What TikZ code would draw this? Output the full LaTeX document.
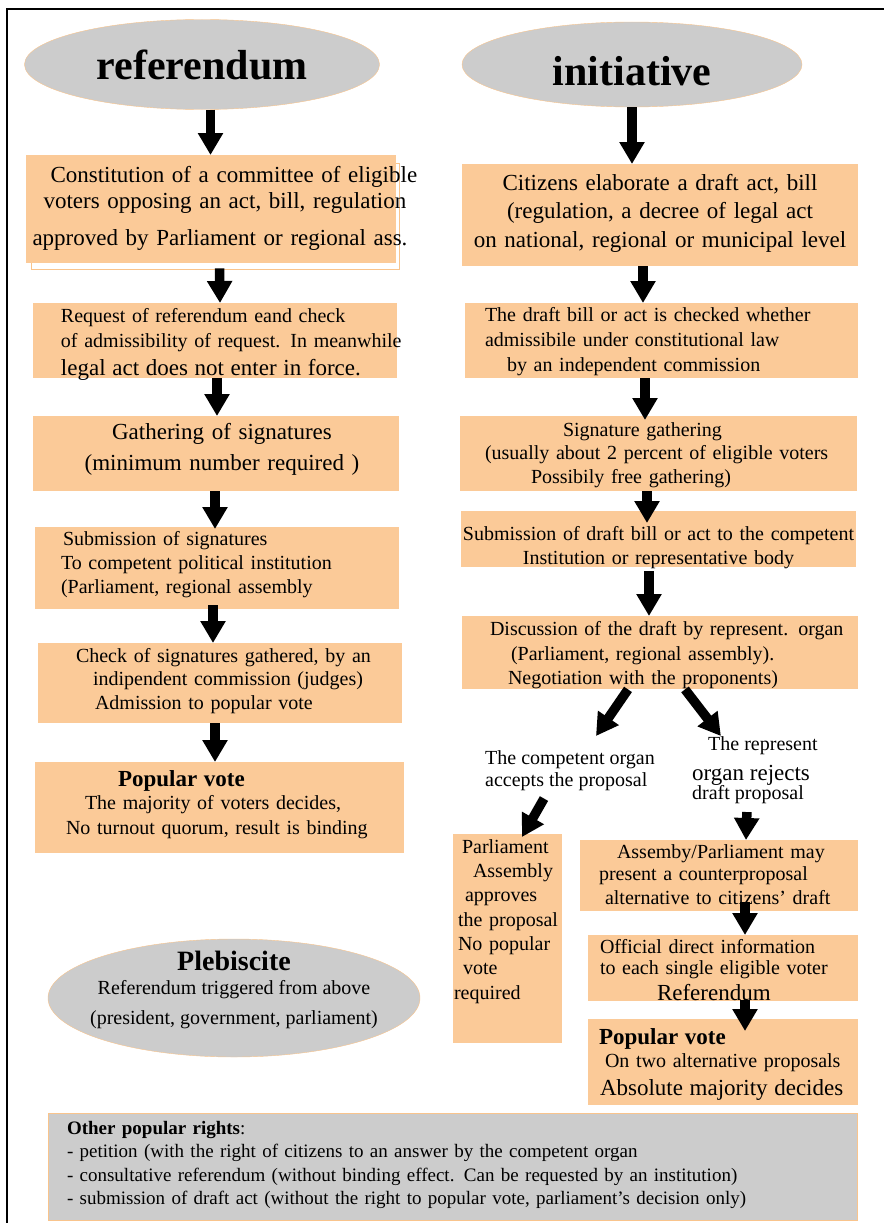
\documentclass[tikz,border=0pt]{standalone}
\usepackage{fontspec}
\setmainfont{Liberation Serif}
\usepackage{tikz}
\usetikzlibrary{shapes,arrows.meta}

\definecolor{peach}{RGB}{251,202,152}
\definecolor{ovalgray}{RGB}{204,204,204}
\definecolor{rim}{RGB}{249,196,140}

\newcommand{\bodyfont}{\fontsize{20}{24}\selectfont}
\newcommand{\largefont}{\fontsize{23}{27}\selectfont}
\newcommand{\titlefont}{\fontsize{42}{46}\selectfont\bfseries}

\begin{document}
\begin{tikzpicture}[x=1pt,y=-1pt]

 \tikzstyle{stage}=[fill=peach,inner sep=0pt,anchor=north,align=left,font=\bodyfont]
 \tikzstyle{oval}=[ellipse,draw=rim,fill=ovalgray,inner sep=0pt]
 \tikzstyle{panel}=[fill=ovalgray,draw=rim,inner sep=0pt,anchor=north,align=left]
 \tikzstyle{note}=[inner sep=0pt,font=\bodyfont,align=left]
 \tikzstyle{flow}=[-{Triangle[width=24pt,length=22pt]},line width=9.5pt]

\useasboundingbox (0,0) rectangle (884,1223);
\draw[line width=1.5pt] (7,1223) -- (7,9) -- (884,9);

% Titles
\node[oval,minimum width=355pt,minimum height=90pt,font=\titlefont] (ref) at (202,64.5) {referendum};
\node[oval,minimum width=340pt,minimum height=85pt,font=\titlefont,text height=43pt] (ini) at (632,64.5) {initiative};

% Referendum column
\draw[rim,fill=white] (31,163) rectangle (399,269);
\node[stage,text width=370pt,text height=27pt,text depth=81pt,font=\fontsize{23}{26}\selectfont] (l1) at (210.5,155)
 {\hspace*{25pt}\mbox{Constitution of a committee of eligible}\\
  \hspace*{18pt}\mbox{voters opposing an act, bill, regulation}\\[11pt]
  \hspace*{7pt}\mbox{approved by Parliament or regional ass.}};

\node[stage,text width=364pt,text height=19pt,text depth=56pt,font=\fontsize{20}{25}\selectfont] (l2) at (215,303)
 {\hspace*{28pt}Request of referendum eand check\\
  \hspace*{28pt}\mbox{of admissibility of request. In meanwhile}\\[3pt]
  \hspace*{28pt}{\largefont legal act does not enter in force.}};

\node[stage,text width=366pt,text height=23pt,text depth=52pt,align=center,font=\largefont] (l3) at (216,416)
 {\hspace*{12pt}Gathering of signatures\\[4pt]\hspace*{12pt}(minimum number required )};

\node[stage,text width=364pt,text height=18pt,text depth=64pt] (l4) at (217,527)
 {\hspace*{28pt}Submission of signatures\\
  \hspace*{26pt}To competent political institution\\
  \hspace*{26pt}(Parliament, regional assembly};

\node[stage,text width=364pt,text height=19pt,text depth=61pt,font=\fontsize{20}{23.5}\selectfont] (l5) at (220,643)
 {\hspace*{38pt}Check of signatures gathered, by an\\
  \hspace*{55pt}indipendent commission (judges)\\
  \hspace*{57pt}Admission to popular vote};

\node[stage,text width=369pt,text height=24pt,text depth=67pt] (l6) at (219.5,762)
 {\hspace*{83pt}{\largefont\bfseries Popular vote}\\[-1pt]
  \hspace*{50pt}The majority of voters decides,\\[1pt]
  \hspace*{31pt}No turnout quorum, result is binding};

\node[oval,inner xsep=-50pt,inner ysep=-15pt,minimum width=372pt,minimum height=118pt,align=center,
 font=\bodyfont,text depth=21pt] (pleb) at (234,998)
 {{\fontsize{28}{30}\selectfont\bfseries Plebiscite}\\Referendum triggered from above\\[6pt](president, government, parliament)};

% Initiative column
\node[stage,text width=396pt,text height=26pt,text depth=76pt,align=center,font=\fontsize{23}{28.5}\selectfont] (r1) at (660,164)
 {Citizens elaborate a draft act, bill\\(regulation, a decree of legal act\\on national, regional or municipal level};

\node[stage,text width=393pt,text height=18pt,text depth=57pt,font=\fontsize{20}{25}\selectfont] (r2) at (661.5,303)
 {\hspace*{20pt}The draft bill or act is checked whether\\
  \hspace*{20pt}admissibile under constitutional law\\
  \hspace*{42pt}by an independent commission};

\node[stage,text width=397pt,text height=20pt,text depth=55pt,font=\fontsize{20}{23.5}\selectfont] (r3) at (658.5,416)
 {\hspace*{103pt}Signature gathering\\
  \hspace*{25pt}(usually about 2 percent of eligible voters\\
  \hspace*{71pt}Possibily free gathering)};

\node[stage,text width=395pt,text height=29pt,text depth=27pt,align=center] (r4) at (658.5,511)
 {\mbox{Submission of draft bill or act to the competent}\\Institution or representative body};

\node[stage,text width=396pt,text height=19pt,text depth=54pt] (r5) at (660,616)
 {\hspace*{28pt}\mbox{Discussion of the draft by represent. organ}\\[1pt]
  \hspace*{49pt}(Parliament, regional assembly).\\
  \hspace*{46pt}Negotiation with the proponents)};

\node[note,anchor=north west] (acc) at (485,750) {The competent organ\\[-2pt]accepts the proposal};
\node[note,anchor=north west] (rej) at (692,736)
 {\hspace*{16pt}The represent\\[6.5pt]{\largefont organ rejects}\\[-5pt]draft proposal};

\node[stage,text width=109pt,text height=19pt,text depth=190pt,font=\fontsize{20}{24.3}\selectfont] (par) at (507.5,834)
 {\hspace*{9pt}Parliament\\
  \hspace*{20pt}Assembly\\
  \hspace*{12pt}approves\\
  \hspace*{5pt}the proposal\\
  \hspace*{5pt}No popular\\
  \hspace*{10pt}vote\\
  \hspace*{1pt}required};

\node[stage,text width=278pt,text height=18pt,text depth=53pt,font=\fontsize{20}{22.5}\selectfont] (b6) at (719,840)
 {\hspace*{37pt}Assemby/Parliament may\\
  \hspace*{19pt}present a counterproposal\\[1.5pt]
  \hspace*{25pt}alternative to citizens’ draft};

\node[stage,text width=270pt,text height=18pt,text depth=48pt,font=\fontsize{20}{21}\selectfont] (b7) at (723,935)
 {\hspace*{12pt}Official direct information\\
  \hspace*{12pt}to each single eligible voter\\[5pt]
  \hspace*{69pt}{\largefont Referendum}};

\node[stage,text width=270pt,text height=25pt,text depth=61pt,font=\fontsize{20}{23}\selectfont] (b8) at (723,1019)
 {\hspace*{11pt}{\largefont\bfseries Popular vote}\\
  \hspace*{17pt}On two alternative proposals\\[5pt]
  \hspace*{12pt}{\largefont Absolute majority decides}};

% Other rights
\node[panel,text width=809pt,text height=21pt,text depth=86pt,font=\fontsize{19}{23.5}\selectfont] (other) at (452.5,1113)
 {\hspace*{19pt}{\bfseries Other popular rights}:\\
  \hspace*{19pt}- petition (with the right of citizens to an answer by the competent organ\\
  \hspace*{19pt}- consultative referendum (without binding effect. Can be requested by an institution)\\
  \hspace*{19pt}- submission of draft act (without the right to popular vote, parliament’s decision only)};

% Arrows
\draw[flow] (ref.south -| l1.north) -- (l1.north);
\draw[flow] ([xshift=9pt,yshift=-5pt]l1.south) -- ([xshift=5pt]l2.north);
\draw[flow] ([xshift=2pt]l2.south) -- ([xshift=1pt]l3.north);
\draw[flow] ([xshift=-1pt]l3.south) -- ([xshift=-2pt,yshift=-2pt]l4.north);
\draw[flow] ([xshift=-4pt,yshift=4pt]l4.south) -- ([xshift=-7pt]l5.north);
\draw[flow] ([xshift=-5pt]l5.south) -- ([xshift=-4.5pt]l6.north);

\draw[flow] (ini.south) -- (ini.south |- r1.north);
\draw[flow] ([xshift=-17pt]r1.south) -- ([xshift=-18.5pt]r2.north);
\draw[flow] ([xshift=-16.5pt]r2.south) -- ([xshift=-13.5pt,yshift=-4pt]r3.north);
\draw[flow] ([xshift=-11.5pt]r3.south) -- ([xshift=-11.5pt,yshift=-12pt]r4.north);
\draw[flow] ([xshift=-9.5pt,yshift=-4pt]r4.south) -- ([xshift=-11pt]r5.north);
\draw[flow] ([xshift=-32pt]r5.south) -- ([xshift=26pt,yshift=14pt]acc.north);
\draw[flow] ([xshift=25pt]r5.south) -- ([xshift=-34pt]rej.north);
\draw[flow] ([xshift=-26pt,yshift=-8pt]acc.south) -- ([xshift=14.5pt,yshift=-3pt]par.north);
\draw[flow] ([xshift=-8pt,yshift=-8pt]rej.south) -- ([xshift=27pt]b6.north);
\draw[flow] ([xshift=26pt,yshift=9pt]b6.south) -- ([xshift=22pt]b7.north);
\draw[flow] ([xshift=22pt,yshift=1pt]b7.south) -- ([xshift=22pt,yshift=-12pt]b8.north);

\end{tikzpicture}
\end{document}
